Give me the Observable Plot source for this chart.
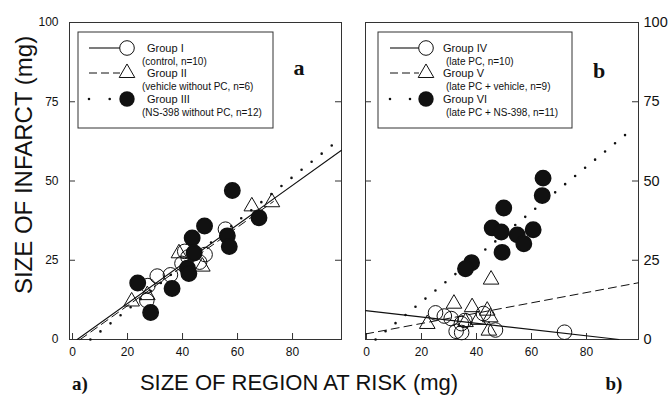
<!DOCTYPE html>
<html><head><meta charset="utf-8">
<script src="https://cdn.jsdelivr.net/npm/d3@7"></script>
<script src="https://cdn.jsdelivr.net/npm/@observablehq/plot@0.6"></script>
<style>
html,body{margin:0;padding:0;background:#fff;}
#chart{position:relative;width:672px;height:396px;overflow:hidden;font-family:"Liberation Sans",Arial,sans-serif;}
#chart > svg{position:absolute;left:0;top:0;}
</style></head><body><div id="chart"></div>
<script>
// ---------- data ----------
const xTicks = [0, 20, 40, 60, 80];
const yTicks = [0, 25, 50, 75, 100];

// Panel a
const groupI_x = [55.6, 48.2, 46.2, 40.8, 39.8, 42.0, 35.6, 30.8, 27.4, 27.0];
const groupI_y = [34.8, 26.8, 24.4, 27.8, 24.0, 26.0, 20.4, 20.0, 17.0, 12.3];
const groupII_x = [65.2, 72.5, 38.7, 47.2, 27.2, 21.5];
const groupII_y = [42.0, 43.3, 27.2, 23.0, 14.0, 12.0];
const groupIII_x = [58.1, 48.0, 43.5, 56.3, 57.0, 44.2, 41.8, 42.3, 67.8, 36.2, 23.7, 28.4];
const groupIII_y = [47.0, 35.8, 32.0, 32.7, 29.3, 27.3, 22.5, 20.8, 38.4, 16.1, 17.8, 8.5];
const fitI_x = [1.7, 97.8],  fitI_y = [0, 59.7];
const fitII_x = [2.8, 73],   fitII_y = [0, 43.5];
const fitIII_x = [6.5, 95],  fitIII_y = [0, 61.7];

// Panel b
const groupIV_x = [25.1, 28.3, 30.8, 34.5, 35.8, 32.6, 34.6, 42.5, 46.9, 72.0];
const groupIV_y = [8.4, 7.4, 6.6, 5.0, 6.0, 2.6, 2.2, 8.2, 3.0, 2.3];
const groupV_x = [45.3, 31.8, 38.4, 43.9, 22.1, 36.0, 40.5, 45.0, 44.5];
const groupV_y = [18.9, 11.3, 10.2, 9.1, 4.9, 5.5, 6.2, 7.0, 2.8];
const groupVI_x = [64.2, 63.9, 49.9, 45.7, 49.0, 54.8, 60.6, 57.2, 49.3, 38.2, 36.0];
const groupVI_y = [50.9, 45.4, 41.5, 35.2, 33.9, 33.0, 34.6, 30.2, 27.5, 24.2, 22.3];
const fitIV_x = [-0.3, 91.8], fitIV_y = [9.1, 0];
const fitV_x = [-0.3, 98.9],  fitV_y = [1.75, 17.9];
const fitVI_x = [3.3, 96],    fitVI_y = [0, 65.9];

const legendA_names = ["Group I", "Group II", "Group III"];
const legendA_subs = ["(control, n=10)", "(vehicle without PC, n=6)", "(NS-398 without PC, n=12)"];
const legendB_names = ["Group IV", "Group V", "Group VI"];
const legendB_subs = ["(late PC, n=10)", "(late PC + vehicle, n=9)", "(late PC + NS-398, n=11)"];
const yTitle = "SIZE OF INFARCT (mg)";
const xTitle = "SIZE OF REGION AT RISK (mg)";

// ---------- drawing ----------
const W = 672, H = 396, TOP = 22, BOTTOM = 339;
const INK = "#111";
const FONT = "'Liberation Sans', Arial, sans-serif";
const SOLID = {stroke: INK, strokeWidth: 1.1};
const DASHED = {stroke: INK, strokeWidth: 1, strokeDasharray: "8,5"};
const DOTTED = {stroke: INK, strokeWidth: 2.6, strokeDasharray: "0,12.9", strokeLinecap: "round"};

function panel({left, right, xDomain, yAnchor, yFont, yPad, open, tri, fill, fits}) {
  const fw = right - left, fh = BOTTOM - TOP;
  return Plot.plot({
    width: W, height: H,
    marginLeft: left, marginRight: W - right, marginTop: TOP, marginBottom: H - BOTTOM,
    x: {domain: xDomain}, y: {domain: [0, 100]},
    style: {background: "transparent", fontFamily: FONT, color: INK},
    marks: [
      Plot.frame({stroke: "#333", strokeWidth: 1}),
      Plot.tickY(yTicks, {y: d => d, insetRight: fw - 6, stroke: "#333"}),
      Plot.tickY(yTicks, {y: d => d, insetLeft: fw - 6, stroke: "#333"}),
      Plot.tickX(xTicks, {x: d => d, insetTop: fh - 6, stroke: "#333"}),
      Plot.axisX(xTicks, {tickSize: 0, tickPadding: 8, fontSize: 12, label: null}),
      Plot.axisY(yTicks, {anchor: yAnchor, tickSize: 0, tickPadding: yPad, fontSize: yFont, label: null}),
      Plot.line(d3.zip(fits[0][0], fits[0][1]), {x: "0", y: "1", ...SOLID}),
      Plot.line(d3.zip(fits[1][0], fits[1][1]), {x: "0", y: "1", ...DASHED}),
      Plot.line(d3.zip(fits[2][0], fits[2][1]), {x: "0", y: "1", ...DOTTED}),
      Plot.dot(d3.zip(open[0], open[1]), {x: "0", y: "1", r: 7.3, fill: "none", stroke: INK, strokeWidth: 1}),
      Plot.dot(d3.zip(tri[0], tri[1]), {x: "0", y: "1", r: 5.8, symbol: "triangle", fill: "none", stroke: INK, strokeWidth: 1}),
      Plot.dot(d3.zip(fill[0], fill[1]), {x: "0", y: "1", r: 7.7, fill: INK, stroke: INK})
    ]
  });
}

const chart = document.getElementById("chart");
chart.append(panel({
  left: 69, right: 341, xDomain: [-1.1, 97.8], yAnchor: "left", yFont: 12, yPad: 11,
  open: [groupI_x, groupI_y], tri: [groupII_x, groupII_y], fill: [groupIII_x, groupIII_y],
  fits: [[fitI_x, fitI_y], [fitII_x, fitII_y], [fitIII_x, fitIII_y]]
}));
chart.append(panel({
  left: 365, right: 638, xDomain: [-0.36, 98.9], yAnchor: "right", yFont: 14.5, yPad: 5,
  open: [groupIV_x, groupIV_y], tri: [groupV_x, groupV_y], fill: [groupVI_x, groupVI_y],
  fits: [[fitIV_x, fitIV_y], [fitV_x, fitV_y], [fitVI_x, fitVI_y]]
}));

// ---------- overlay: titles, panel letters, legends ----------
const ov = d3.select(chart).append("svg").attr("width", W).attr("height", H)
  .style("font-family", FONT).attr("fill", INK);

ov.append("text").attr("transform", "translate(32,165) rotate(-90)")
  .attr("text-anchor", "middle").attr("font-size", 24).text(yTitle);
ov.append("text").attr("x", 299).attr("y", 390).attr("text-anchor", "middle")
  .attr("font-size", 22).text(xTitle);

const serif = "'Liberation Serif', 'DejaVu Serif', serif";
[["a", 299, 75], ["b", 599, 78]].forEach(([t, x, y]) =>
  ov.append("text").attr("x", x).attr("y", y).attr("text-anchor", "middle")
    .attr("font-family", serif).attr("font-weight", "bold").attr("font-size", 22).text(t));
[["a)", 80, 390], ["b)", 614, 390]].forEach(([t, x, y]) =>
  ov.append("text").attr("x", x).attr("y", y).attr("text-anchor", "middle")
    .attr("font-family", serif).attr("font-weight", "bold").attr("font-size", 19).text(t));

function legend(box, names, subs, sym) {
  const g = ov.append("g");
  g.append("rect").attr("x", box.x).attr("y", box.y).attr("width", box.w).attr("height", box.h)
    .attr("fill", "white").attr("stroke", "#333").attr("stroke-width", 1);
  const rows = [48, 73, 99], subRows = [61, 86, 112];
  const styles = [SOLID, DASHED, DOTTED];
  names.forEach((n, i) => {
    const cy = rows[i];
    const s = styles[i];
    const ln = g.append("line").attr("x1", sym.lx1).attr("x2", i === 2 ? sym.dx2 : sym.lx2)
      .attr("y1", cy).attr("y2", cy).attr("stroke", INK).attr("stroke-width", s.strokeWidth);
    if (i === 1) ln.attr("stroke-dasharray", "8,4");
    if (i === 2) ln.attr("stroke-dasharray", sym.dotDash).attr("stroke-linecap", "round");
    if (i === 0) g.append("circle").attr("cx", sym.cx).attr("cy", cy).attr("r", 7.3)
      .attr("fill", "white").attr("stroke", INK);
    if (i === 1) g.append("path").attr("transform", `translate(${sym.cx},${cy})`)
      .attr("d", d3.symbol(d3.symbolTriangle, Math.PI * 5.8 * 5.8)()).attr("fill", "white").attr("stroke", INK);
    if (i === 2) g.append("circle").attr("cx", sym.cx).attr("cy", cy).attr("r", 7.7).attr("fill", INK);
    g.append("text").attr("x", sym.tx).attr("y", cy + 4).attr("font-size", 11).text(n);
    g.append("text").attr("x", sym.sx).attr("y", subRows[i] + 3.5).attr("font-size", 10).text(subs[i]);
  });
}
legend({x: 78, y: 32, w: 195, h: 96}, legendA_names, legendA_subs,
  {lx1: 89, lx2: 120, dx2: 118, dotDash: "0,20.7", cx: 127, tx: 147, sx: 142});
legend({x: 378, y: 32, w: 194, h: 96}, legendB_names, legendB_subs,
  {lx1: 390, lx2: 419, dx2: 412, dotDash: "0,20", cx: 426, tx: 443, sx: 446});
</script></body></html>
